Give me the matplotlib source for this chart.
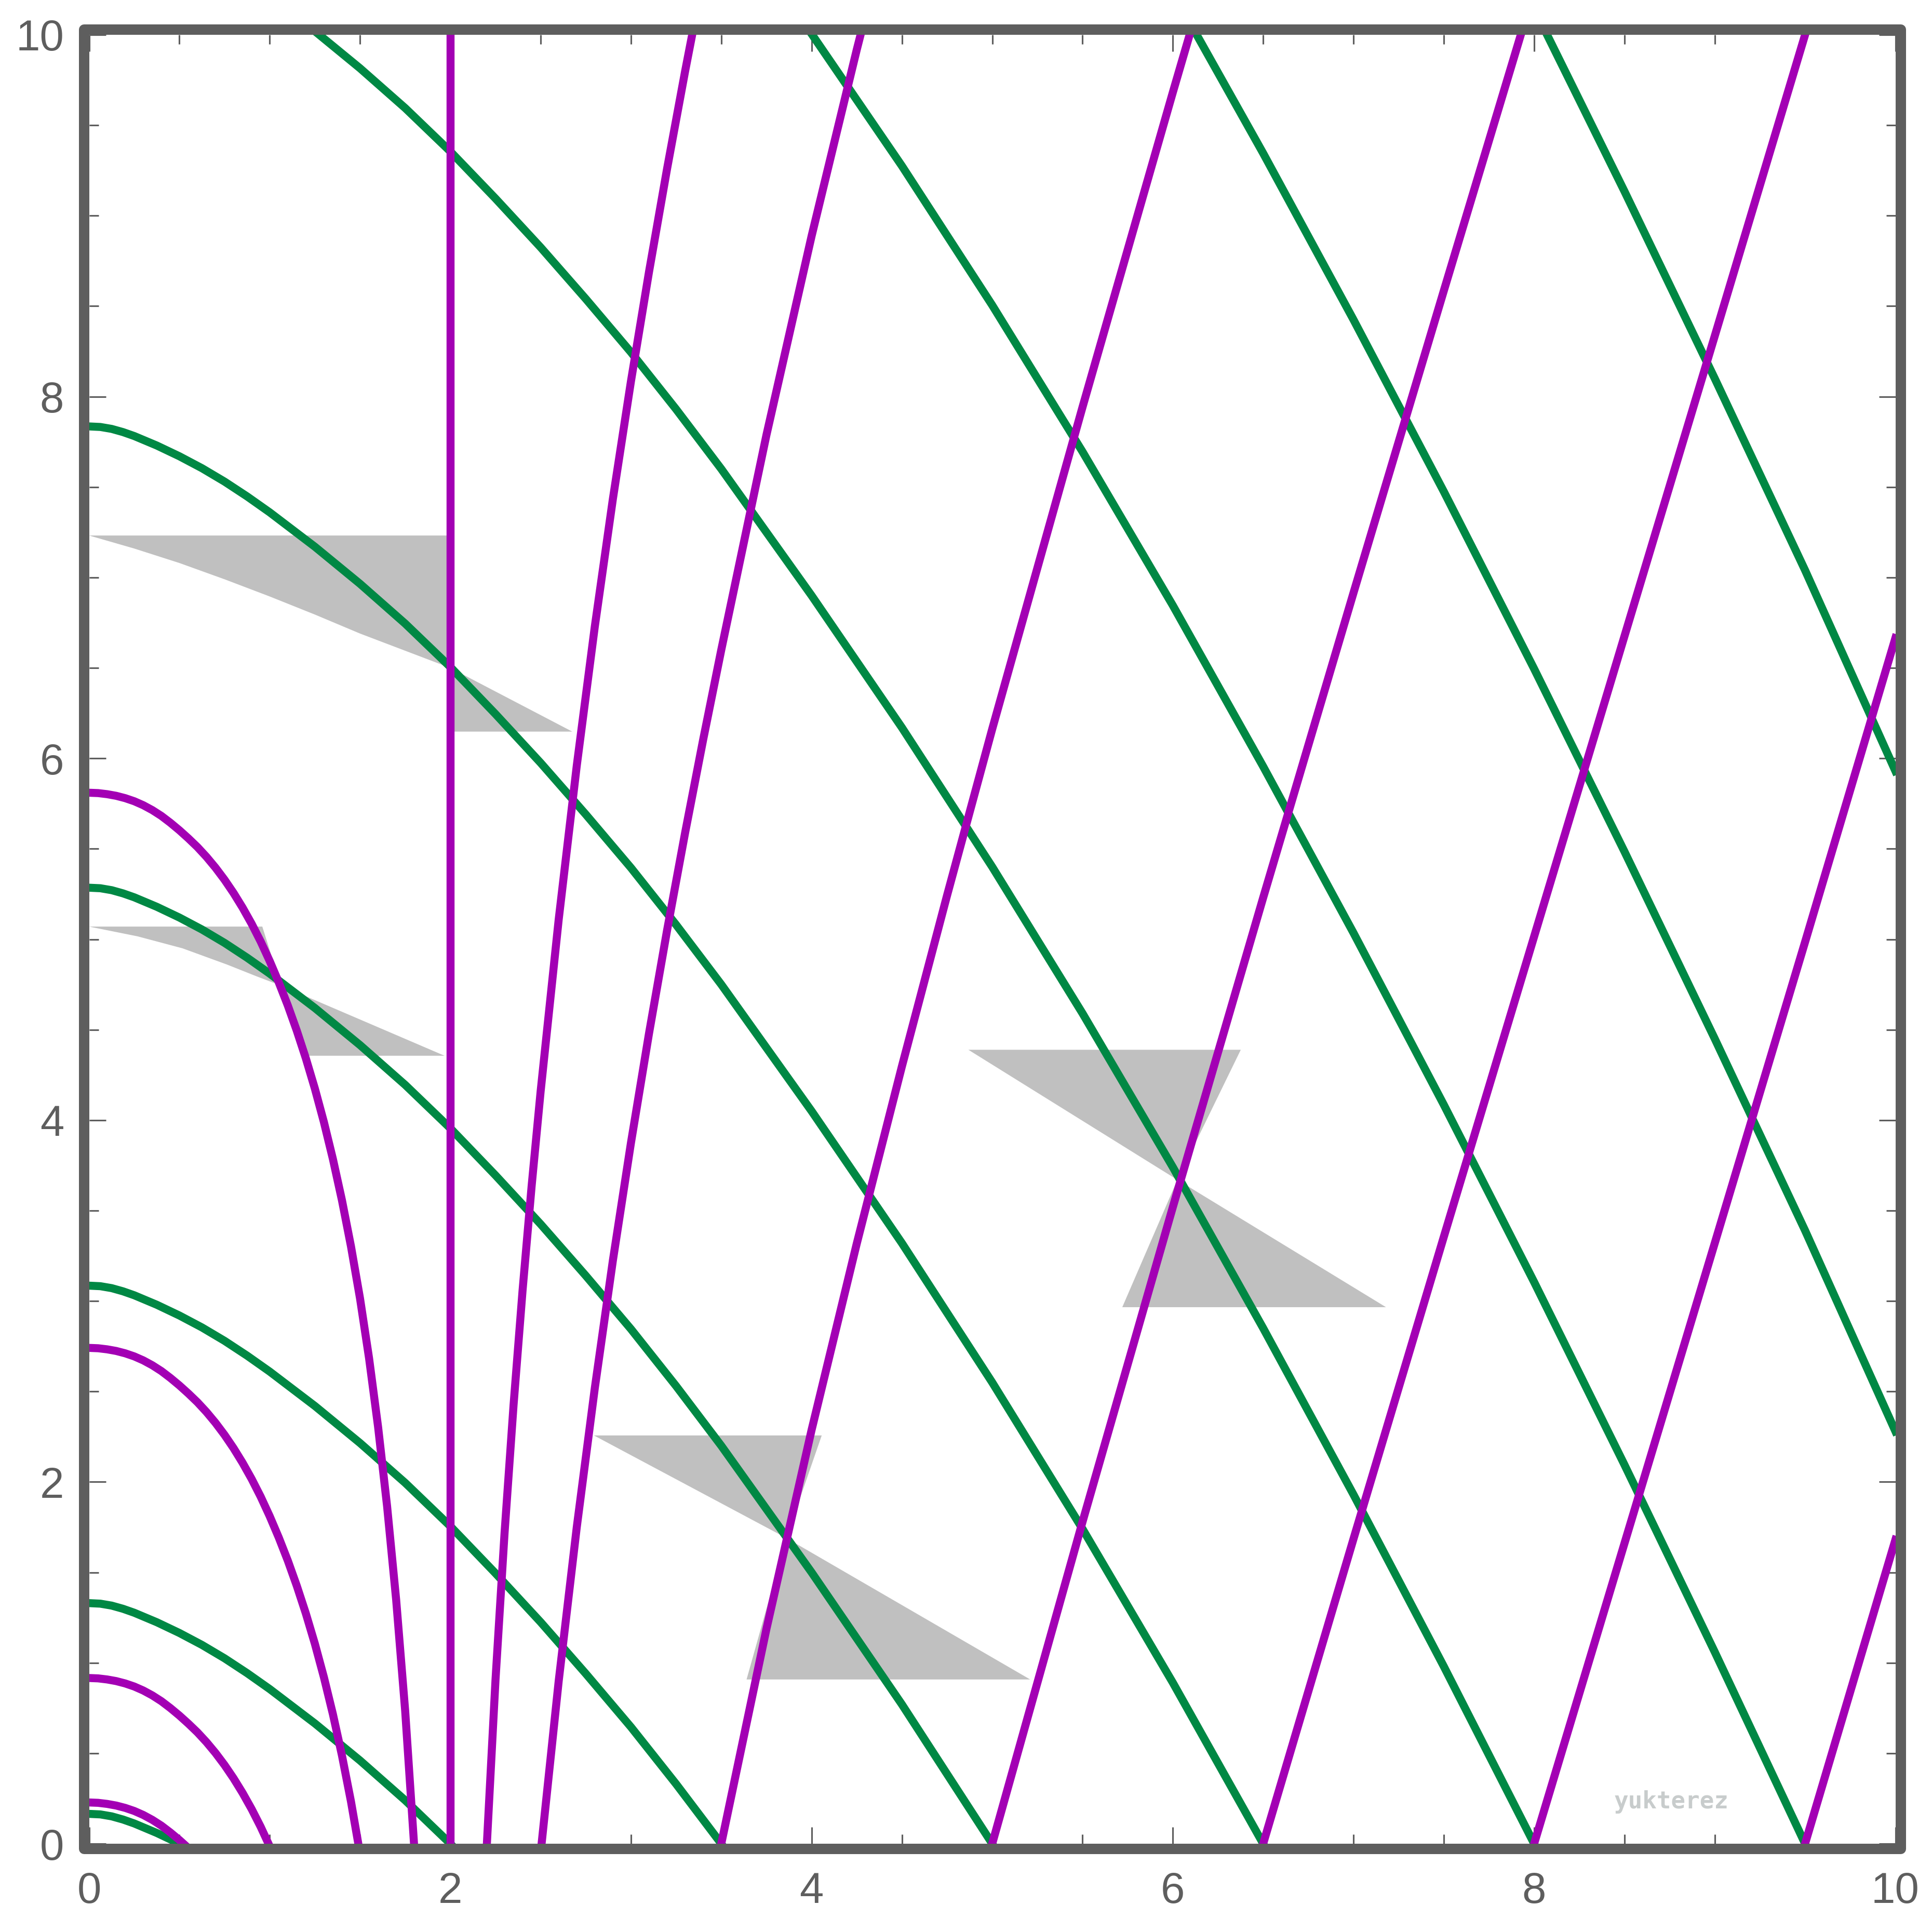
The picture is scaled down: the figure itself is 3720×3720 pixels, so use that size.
import matplotlib.pyplot as plt
from matplotlib.patches import Rectangle
from matplotlib.ticker import MultipleLocator
from matplotlib.transforms import Affine2D

plt.rcParams['font.family'] = ['Liberation Sans', 'DejaVu Sans']

# Every ray of one colour in the picture is the same curve moved up or down
# (the diagram is static in time), so each family is kept as one shape read
# off the picture plus the vertical offsets of its copies.

# ingoing light ray shape (green), y relative to its value at x = 0
green_shape_x = [0, 0.0625, 0.125, 0.1875, 0.25, 0.375, 0.5, 0.625, 0.75, 0.875, 1.0,
                 1.25, 1.5, 1.75, 2.0, 2.25, 2.5, 2.75, 3.0, 3.25, 3.5, 4.0, 4.5, 5.0,
                 5.5, 6.0, 6.5, 7.0, 7.5, 8.0, 8.5, 9.0, 9.5, 10.0]
green_shape_y = [0, -0.003, -0.0137, -0.0312, -0.0531, -0.1056, -0.165, -0.231, -0.305,
                 -0.387, -0.475, -0.665, -0.87, -1.09, -1.33, -1.59, -1.86, -2.145,
                 -2.44, -2.755, -3.085, -3.785, -4.515, -5.285, -6.095, -6.945, -7.835,
                 -8.755, -9.705, -10.685, -11.695, -12.73, -13.79, -14.90]
green_offsets = [0.165, 1.33, 3.085, 5.285, 7.835, 10.685, 13.79, 17.18, 20.83]

# outgoing ray shape inside the horizon (magenta), y relative to x = 0
inner_shape_x = [0, 0.05, 0.1, 0.15, 0.2, 0.25, 0.3, 0.35, 0.4, 0.45, 0.5, 0.55, 0.6,
                 0.65, 0.7, 0.75, 0.8, 0.85, 0.9, 0.95, 1.0, 1.05, 1.1, 1.15, 1.2, 1.25,
                 1.3, 1.35, 1.4, 1.45, 1.5, 1.55, 1.6, 1.65, 1.7, 1.75, 1.8, 1.82]
inner_shape_y = [0, -0.002, -0.008, -0.017, -0.03, -0.047, -0.069, -0.096, -0.128,
                 -0.166, -0.2075, -0.2525, -0.3005, -0.3545, -0.4145, -0.481, -0.5545,
                 -0.6355, -0.7245, -0.8225, -0.9305, -1.048, -1.1755, -1.3155, -1.468,
                 -1.6355, -1.8205, -2.0255, -2.253, -2.508, -2.7955, -3.1255, -3.5055,
                 -3.9455, -4.4605, -5.0755, -5.8255, -6.2]
inner_offsets = [0.228, 0.916, 2.741, 5.81]

# outgoing ray shape outside the horizon, y relative to the ray leaving x = 3.5
outer_shape_x = [2.17, 2.2, 2.25, 2.3, 2.35, 2.4, 2.45, 2.5, 2.6, 2.7, 2.8, 2.9, 3.0,
                 3.1, 3.2, 3.3, 3.4, 3.5, 3.75, 4.0, 4.25, 4.5, 4.75, 5.0, 5.5, 6.0,
                 6.5, 7.0, 7.5, 8.0, 8.5, 9.0, 9.5, 10.0]
outer_shape_y = [-11.545, -10.855, -9.905, -9.095, -8.385, -7.75, -7.175, -6.65, -5.70,
                 -4.85, -4.08, -3.375, -2.725, -2.12, -1.55, -1.01, -0.495, 0.0, 1.1875,
                 2.2875, 3.3175, 4.2975, 5.2425, 6.1625, 7.9425, 9.6825, 11.3925,
                 13.0775, 14.7475, 16.4075, 18.0675, 19.7275, 21.3925, 23.0725]
outer_offsets = [10.81, 6.6, 0.0, -6.1625, -11.3925, -16.4075, -21.3925]

# the ray that stays on the horizon
horizon_x = [2.0, 2.0]
horizon_y = [0, 10]

# light cones (grey bow ties): upper and lower halves
cone_x = [
    [0, 2.0, 2.0, 1.75, 1.5, 1.25, 1.0, 0.75, 0.5, 0.25, 0],
    [2.0, 2.675, 2.0],
    [0, 0.959, 1.062, 0.93, 0.764, 0.517, 0.269, 0],
    [1.062, 1.968, 1.178],
    [2.795, 4.056, 3.86],
    [3.86, 5.21, 3.64],
    [4.868, 6.376, 6.025],
    [6.025, 7.18, 5.72],
]
cone_y = [
    [7.232, 7.232, 6.5, 6.595, 6.69, 6.795, 6.895, 6.99, 7.08, 7.16, 7.232],
    [6.5, 6.148, 6.148],
    [5.07, 5.07, 4.744, 4.794, 4.86, 4.95, 5.016, 5.07],
    [4.744, 4.356, 4.356],
    [2.257, 2.257, 1.69],
    [1.69, 0.908, 0.908],
    [4.389, 4.389, 3.67],
    [3.67, 2.966, 2.966],
]

ticks = [0, 2, 4, 6, 8, 10]
frame_col = '#5e5e5e'
green = '#008844'
magenta = '#a300b4'
lw = 3.7

fig = plt.figure(figsize=(12.4, 12.4), dpi=300)
ax = fig.add_axes([171.5 / 3720, 170 / 3720, 3478 / 3720, 3483 / 3720])
ax.set_xlim(0, 10)
ax.set_ylim(0, 10)

for cx, cy in zip(cone_x, cone_y):
    ax.fill(cx, cy, color='#c0c0c0', lw=0, zorder=1)


def shifted(dy):
    return Affine2D().translate(0, dy) + ax.transData


for off in green_offsets:
    ax.plot(green_shape_x, green_shape_y, color=green, lw=lw,
            transform=shifted(off), zorder=2)
for off in inner_offsets:
    ax.plot(inner_shape_x, inner_shape_y, color=magenta, lw=lw,
            transform=shifted(off), zorder=3)
for off in outer_offsets:
    ax.plot(outer_shape_x, outer_shape_y, color=magenta, lw=lw,
            transform=shifted(off), zorder=3)
ax.plot(horizon_x, horizon_y, color=magenta, lw=lw, zorder=3)

ax.text(8.76, 0.23, 'yukterez', family='DejaVu Sans Mono', weight='bold',
        fontsize=11, color='#c8cccc', ha='center', va='center', zorder=4)

ax.set_xticks(ticks)
ax.set_yticks(ticks)
ax.xaxis.set_minor_locator(MultipleLocator(0.5))
ax.yaxis.set_minor_locator(MultipleLocator(0.5))
ax.tick_params(which='both', direction='in', top=True, right=True,
               color=frame_col, width=0.75, labelsize=20, labelcolor=frame_col)
ax.tick_params(which='major', length=7.7)
ax.tick_params(which='minor', length=4.3)
ax.tick_params(axis='x', pad=12.7)
ax.tick_params(axis='y', pad=11.6)

for s in ax.spines.values():
    s.set_visible(False)
# thick frame sitting just outside the data area, rounded at the corners
dx, dy = 10 / 3478, 10 / 3483
ax.add_patch(Rectangle((-dx, -dy), 1 + 2 * dx, 1 + 2 * dy, transform=ax.transAxes,
                       fill=False, lw=4.8, ec=frame_col, joinstyle='round',
                       clip_on=False, zorder=6))

fig.savefig('out.png', dpi=300)
